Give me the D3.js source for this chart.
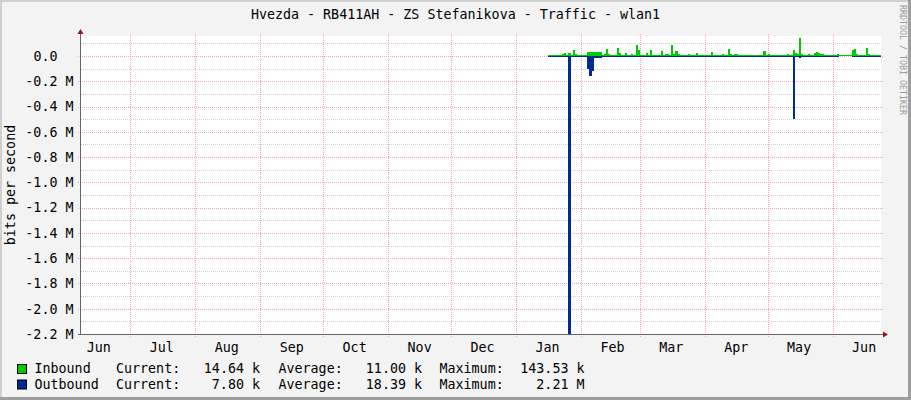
<!DOCTYPE html>
<html><head><meta charset="utf-8">
<script src="https://cdn.jsdelivr.net/npm/d3@7"></script>
<style>
html,body{margin:0;padding:0;background:#f3f3f3;}
svg{display:block;}
text{font-family:"DejaVu Sans Mono",monospace;font-size:13.33px;fill:#000;white-space:pre;}
</style></head><body>
<svg id="c" width="911" height="400"></svg>
<script>
// ---------- data ----------
const title = "Hvezda - RB411AH - ZS Stefanikova - Traffic - wlan1";
const yLabel = "bits per second";
const credit = "RRDTOOL / TOBI OETIKER";
const monthLabels = ["Jun","Jul","Aug","Sep","Oct","Nov","Dec","Jan","Feb","Mar","Apr","May","Jun"];
const yTickValues = [0, -0.2e6, -0.4e6, -0.6e6, -0.8e6, -1.0e6, -1.2e6, -1.4e6, -1.6e6, -1.8e6, -2.0e6, -2.2e6];
const yTickLabels = ["0.0  ", "-0.2 M", "-0.4 M", "-0.6 M", "-0.8 M", "-1.0 M", "-1.2 M", "-1.4 M", "-1.6 M", "-1.8 M", "-2.0 M", "-2.2 M"];
const yMinorValues = [0.1e6, -0.1e6, -0.3e6, -0.5e6, -0.7e6, -0.9e6, -1.1e6, -1.3e6, -1.5e6, -1.7e6, -1.9e6, -2.1e6];
const seriesNames = ["Inbound", "Outbound"];
const seriesColors = ["#00CC00", "#002A97"];
const legendCurrent = ["14.64 k", "7.80 k"];
const legendAverage = ["11.00 k", "18.39 k"];
const legendMaximum = ["143.53 k", "2.21 M"];
// daily samples (kbit/s) starting 2011-01-16
const inbound = [
  10, 10, 10, 10, 10, 10, 10, 12, 25, 10,
  20, 10, 45, 12, 10, 10, 10, 10, 10, 29,
  30, 30, 29, 29, 29, 29, 10, 12, 55, 18,
  10, 10, 10, 65, 25, 10, 10, 20, 10, 10,
  16, 10, 90, 45, 10, 10, 10, 20, 10, 47,
  10, 10, 10, 10, 40, 10, 16, 16, 10, 85,
  12, 40, 12, 10, 10, 10, 10, 16, 10, 10,
  10, 20, 10, 10, 10, 10, 10, 10, 30, 10,
  10, 10, 10, 12, 10, 10, 52, 12, 10, 16,
  12, 10, 10, 10, 10, 10, 10, 10, 10, 10,
  10, 10, 10, 42, 10, 12, 10, 10, 10, 10,
  10, 10, 10, 10, 15, 10, 10, 47, 20, 16,
  143.53, 12, 10, 10, 12, 10, 10, 20, 32, 25,
  16, 12, 10, 10, 10, 10, 10, 10, 12, 6,
  5, 5, 5, 5, 6, 47, 52, 16, 10, 10,
  10, 10, 60, 12, 10, 10, 10, 10, 10, 14.64
];
const outbound = [
  8, 8, 8, 8, 8, 8, 8, 8, 8, 8,
  2210, 8, 8, 8, 8, 8, 8, 8, 8, 100,
  158, 120, 15, 14, 13, 13, 8, 8, 8, 8,
  8, 8, 8, 8, 8, 8, 8, 8, 8, 8,
  8, 8, 8, 8, 8, 8, 8, 8, 8, 8,
  8, 8, 8, 8, 8, 8, 8, 8, 8, 8,
  8, 8, 8, 8, 8, 8, 8, 8, 8, 8,
  8, 8, 8, 8, 8, 8, 8, 8, 8, 8,
  8, 8, 8, 8, 8, 8, 8, 8, 8, 8,
  8, 8, 8, 8, 8, 8, 8, 8, 8, 8,
  8, 8, 8, 8, 8, 8, 8, 8, 8, 8,
  8, 8, 8, 8, 8, 8, 8, 500, 8, 12,
  14, 8, 8, 8, 8, 8, 8, 8, 8, 8,
  8, 8, 8, 8, 8, 8, 8, 8, 8, 0,
  0, 0, 0, 0, 0, 8, 8, 8, 8, 8,
  8, 8, 8, 8, 8, 8, 8, 8, 8, 7.8
];

// ---------- layout ----------
const W = 911, H = 400;
const L = 81, R = 881, T = 36, B = 334;
const svg = d3.select("#c");

const x = d3.scaleTime()
  .domain([new Date(2010, 5, 7, 12), new Date(2011, 5, 24, 1)])
  .range([L, R]);
const y = d3.scaleLinear().domain([-2.2e6, 0.158e6]).range([B, T]);

// background & border
svg.append("rect").attr("width", W).attr("height", H).attr("fill", "#f3f3f3");
svg.append("rect").attr("x", 0).attr("y", 0).attr("width", W).attr("height", 2).attr("fill", "#cfcfcf");
svg.append("rect").attr("x", 0).attr("y", 0).attr("width", 2).attr("height", H).attr("fill", "#cfcfcf");
svg.append("rect").attr("x", W - 3).attr("y", 0).attr("width", 3).attr("height", H).attr("fill", "#9e9e9e");
svg.append("rect").attr("x", 0).attr("y", H - 3).attr("width", W).attr("height", 3).attr("fill", "#9e9e9e");

// plot area
svg.append("rect").attr("x", L).attr("y", T).attr("width", R - L).attr("height", B - T).attr("fill", "#ffffff");

const snap = v => Math.round(v) + 0.5;
const grid = svg.append("g").attr("shape-rendering", "crispEdges");

// minor horizontal grid
grid.selectAll(".hmin").data(yMinorValues).join("line")
  .attr("x1", L).attr("x2", R)
  .attr("y1", d => snap(y(d))).attr("y2", d => snap(y(d)))
  .attr("stroke", "#d2d2d2").attr("stroke-dasharray", "1,1");

// major horizontal grid
grid.selectAll(".hmaj").data(yTickValues).join("line")
  .attr("x1", L - 3).attr("x2", R + 2)
  .attr("y1", d => snap(y(d))).attr("y2", d => snap(y(d)))
  .attr("stroke", "#f0a8a8").attr("stroke-dasharray", "1,1");

// major vertical grid (month starts)
const monthStarts = d3.timeMonth.range(new Date(2010, 5, 1), new Date(2011, 5, 2));
const visibleMonths = monthStarts.filter(d => d >= x.domain()[0] && d <= x.domain()[1]);
grid.selectAll(".vmaj").data(visibleMonths).join("line")
  .attr("x1", d => snap(x(d))).attr("x2", d => snap(x(d)))
  .attr("y1", T - 2).attr("y2", B + 3)
  .attr("stroke", "#f0a8a8").attr("stroke-dasharray", "1,1");

// data
const start = new Date(2011, 0, 16);
const mk = arr => {
  const pts = arr.map((v, i) => ({ date: d3.timeDay.offset(start, i), v: v }));
  pts.push({ date: d3.timeDay.offset(start, arr.length), v: arr[arr.length - 1] });
  return pts;
};
const inData = mk(inbound);
const outData = mk(outbound);

svg.append("clipPath").attr("id", "clip")
  .append("rect").attr("x", L).attr("y", T).attr("width", R - L).attr("height", B - T);
const plot = svg.append("g").attr("clip-path", "url(#clip)").attr("shape-rendering", "crispEdges");

const zeroY = Math.round(y(0));
const areaIn = d3.area().curve(d3.curveStepAfter)
  .x(d => x(d.date)).y0(zeroY).y1(d => Math.min(zeroY - 1, y(d.v * 1000)));
const areaOut = d3.area().curve(d3.curveStepAfter)
  .x(d => x(d.date)).y0(zeroY).y1(d => d.v > 0 ? Math.max(zeroY + 1, y(-d.v * 1000)) : zeroY);

plot.append("path").datum(outData).attr("d", areaOut).attr("fill", seriesColors[1]);
plot.append("path").datum(inData).attr("d", areaIn).attr("fill", seriesColors[0]);

// axes
const axisColor = "#666666";
const arrowColor = "#8e1b1b";
svg.append("line").attr("x1", L - 0.5).attr("x2", L - 0.5).attr("y1", B + 1).attr("y2", T - 4)
  .attr("stroke", axisColor).attr("stroke-width", 1);
svg.append("line").attr("x1", L - 3).attr("x2", R + 3).attr("y1", B + 0.5).attr("y2", B + 0.5)
  .attr("stroke", axisColor).attr("stroke-width", 1);
svg.append("path").attr("d", `M${L - 0.5},${T - 7} L${L - 3.5},${T - 2} L${L + 2.5},${T - 2} Z`).attr("fill", arrowColor);
svg.append("path").attr("d", `M${R + 7},${B + 0.5} L${R + 2},${B - 2.5} L${R + 2},${B + 3.5} Z`).attr("fill", arrowColor);

// y tick labels
svg.append("g").selectAll("text").data(yTickValues).join("text")
  .attr("x", 73.5).attr("y", d => y(d) + 4.8)
  .attr("text-anchor", "end")
  .attr("xml:space", "preserve")
  .text((d, i) => yTickLabels[i]);

// x labels (centered mid-month)
svg.append("g").selectAll("text").data(monthStarts).join("text")
  .attr("x", d => x(d3.timeDay.offset(d, 15)))
  .attr("y", 351.5)
  .attr("text-anchor", "middle")
  .text((d, i) => monthLabels[i]);

// title
svg.append("text").attr("x", 455.5).attr("y", 19).attr("text-anchor", "middle").text(title);

// y label
svg.append("text").attr("transform", `translate(15,${(T + B) / 2}) rotate(-90)`)
  .attr("text-anchor", "middle").text(yLabel);

// credit
svg.append("text").attr("transform", "translate(899.5,5) rotate(90)")
  .style("font-size", "8.3px").style("fill", "#9a9a9a").text(credit);

// legend
const rowsY = [373, 388.5];
seriesNames.forEach((name, i) => {
  const g = svg.append("g");
  g.append("rect").attr("x", 17.5).attr("y", rowsY[i] - 8.5).attr("width", 9).attr("height", 9)
    .attr("fill", seriesColors[i]).attr("stroke", "#000").attr("stroke-width", 1);
  g.append("text").attr("x", 34.5).attr("y", rowsY[i]).text(name);
  g.append("text").attr("x", 116).attr("y", rowsY[i]).text("Current:");
  g.append("text").attr("x", 260).attr("y", rowsY[i]).attr("text-anchor", "end").text(legendCurrent[i]);
  g.append("text").attr("x", 278.5).attr("y", rowsY[i]).text("Average:");
  g.append("text").attr("x", 422).attr("y", rowsY[i]).attr("text-anchor", "end").text(legendAverage[i]);
  g.append("text").attr("x", 439.5).attr("y", rowsY[i]).text("Maximum:");
  g.append("text").attr("x", 584.5).attr("y", rowsY[i]).attr("text-anchor", "end").text(legendMaximum[i]);
});
</script>
</body></html>
